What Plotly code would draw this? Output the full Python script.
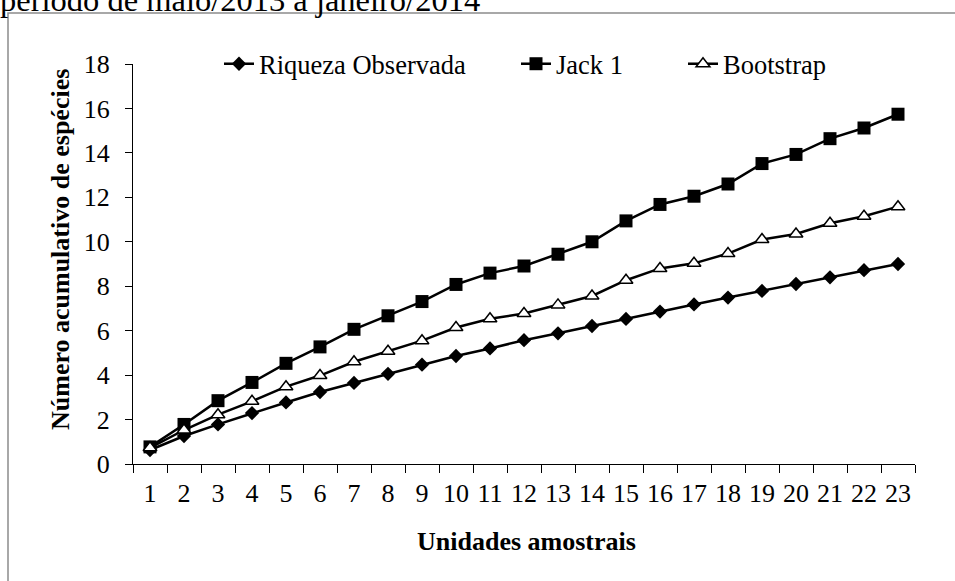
import plotly.graph_objects as go

# ---- data ----
unidades = [str(i) for i in range(1, 24)]
riqueza_observada = [0.63, 1.26, 1.78, 2.29, 2.77, 3.24, 3.65, 4.06, 4.47, 4.86, 5.20, 5.57,
                     5.88, 6.21, 6.53, 6.86, 7.18, 7.49, 7.79, 8.10, 8.40, 8.72, 9.00]
jack1 = [0.77, 1.78, 2.85, 3.67, 4.53, 5.27, 6.06, 6.67, 7.31, 8.08, 8.59, 8.91,
         9.44, 10.00, 10.94, 11.68, 12.05, 12.60, 13.52, 13.93, 14.64, 15.12, 15.74]
bootstrap = [0.73, 1.53, 2.22, 2.82, 3.48, 3.98, 4.60, 5.07, 5.55, 6.14, 6.54, 6.77,
             7.16, 7.56, 8.27, 8.80, 9.03, 9.47, 10.10, 10.35, 10.83, 11.15, 11.58]
y_ticks = [0, 2, 4, 6, 8, 10, 12, 14, 16, 18]

FONT = "Liberation Serif"
W, H = 955, 581
L, R, T, B = 133, 915, 64, 464  # plot area in px


def px_x(px):
    return (px - L) / (R - L)


def px_y(py):
    return (B - py) / (B - T)


fig = go.Figure()
fig.add_trace(go.Scatter(
    x=unidades, y=riqueza_observada, name="Riqueza Observada", mode="lines+markers",
    line=dict(color="black", width=2.5),
    marker=dict(symbol="diamond", size=11, color="black"),
    legend="legend"))
fig.add_trace(go.Scatter(
    x=unidades, y=jack1, name="Jack 1", mode="lines+markers",
    line=dict(color="black", width=2.5),
    marker=dict(symbol="square", size=13, color="black"),
    legend="legend2"))
fig.add_trace(go.Scatter(
    x=unidades, y=bootstrap, name="Bootstrap", mode="lines+markers",
    line=dict(color="black", width=2.5),
    marker=dict(symbol="triangle-up", size=12, color="white",
                line=dict(color="black", width=1.5)),
    legend="legend3"))

leg_common = dict(orientation="h", yanchor="middle", y=1.0, xanchor="left",
                  bgcolor="rgba(0,0,0,0)", font=dict(family=FONT, size=26.5, color="black"))

fig.update_layout(
    width=W, height=H,
    margin=dict(l=L, r=W - R, t=T, b=H - B, pad=0, autoexpand=False),
    paper_bgcolor="white", plot_bgcolor="white",
    font=dict(family=FONT, size=25, color="black"),
    showlegend=True,
    legend=dict(x=px_x(219), **leg_common),
    legend2=dict(x=px_x(516), **leg_common),
    legend3=dict(x=px_x(683), **leg_common),
    xaxis=dict(
        type="category", range=[-0.5, 22.5], tickson="boundaries",
        showline=True, linecolor="black", linewidth=1,
        ticks="outside", ticklen=8, tickcolor="black", tickwidth=1,
        showgrid=False, zeroline=False, tickangle=0,
        tickfont=dict(family=FONT, size=26, color="black"),
        ticklabelstandoff=6,
    ),
    yaxis=dict(
        range=[0, 18], tickvals=y_ticks,
        showline=True, linecolor="black", linewidth=1,
        ticks="outside", ticklen=7, tickcolor="black", tickwidth=1,
        showgrid=False, zeroline=False,
        tickfont=dict(family=FONT, size=26, color="black"),
        ticklabelstandoff=10,
    ),
    shapes=[dict(type="rect", xref="paper", yref="paper",
                 x0=px_x(8), x1=px_x(1100), y0=px_y(700), y1=px_y(13),
                 line=dict(color="#8c8c8c", width=1.5), fillcolor="rgba(0,0,0,0)",
                 layer="below")],
    annotations=[
        dict(text="Unidades amostrais", xref="paper", yref="paper",
             x=px_x(526), y=px_y(541), xanchor="center", yanchor="middle",
             showarrow=False, font=dict(family=FONT, size=26, color="black", weight="bold")),
        dict(text="Número acumulativo de espécies", xref="paper", yref="paper",
             x=px_x(60), y=px_y(250), xanchor="center", yanchor="middle", textangle=-90,
             showarrow=False, font=dict(family=FONT, size=26, color="black", weight="bold")),
        dict(text="período de maio/2013 a janeiro/2014", xref="paper", yref="paper",
             x=px_x(-2), y=px_y(20), xanchor="left", yanchor="bottom",
             showarrow=False, font=dict(family=FONT, size=32.5, color="black")),
    ],
)

fig.write_html("out.html", post_script="document.body.style.margin='0';",
               config={"displayModeBar": False})
